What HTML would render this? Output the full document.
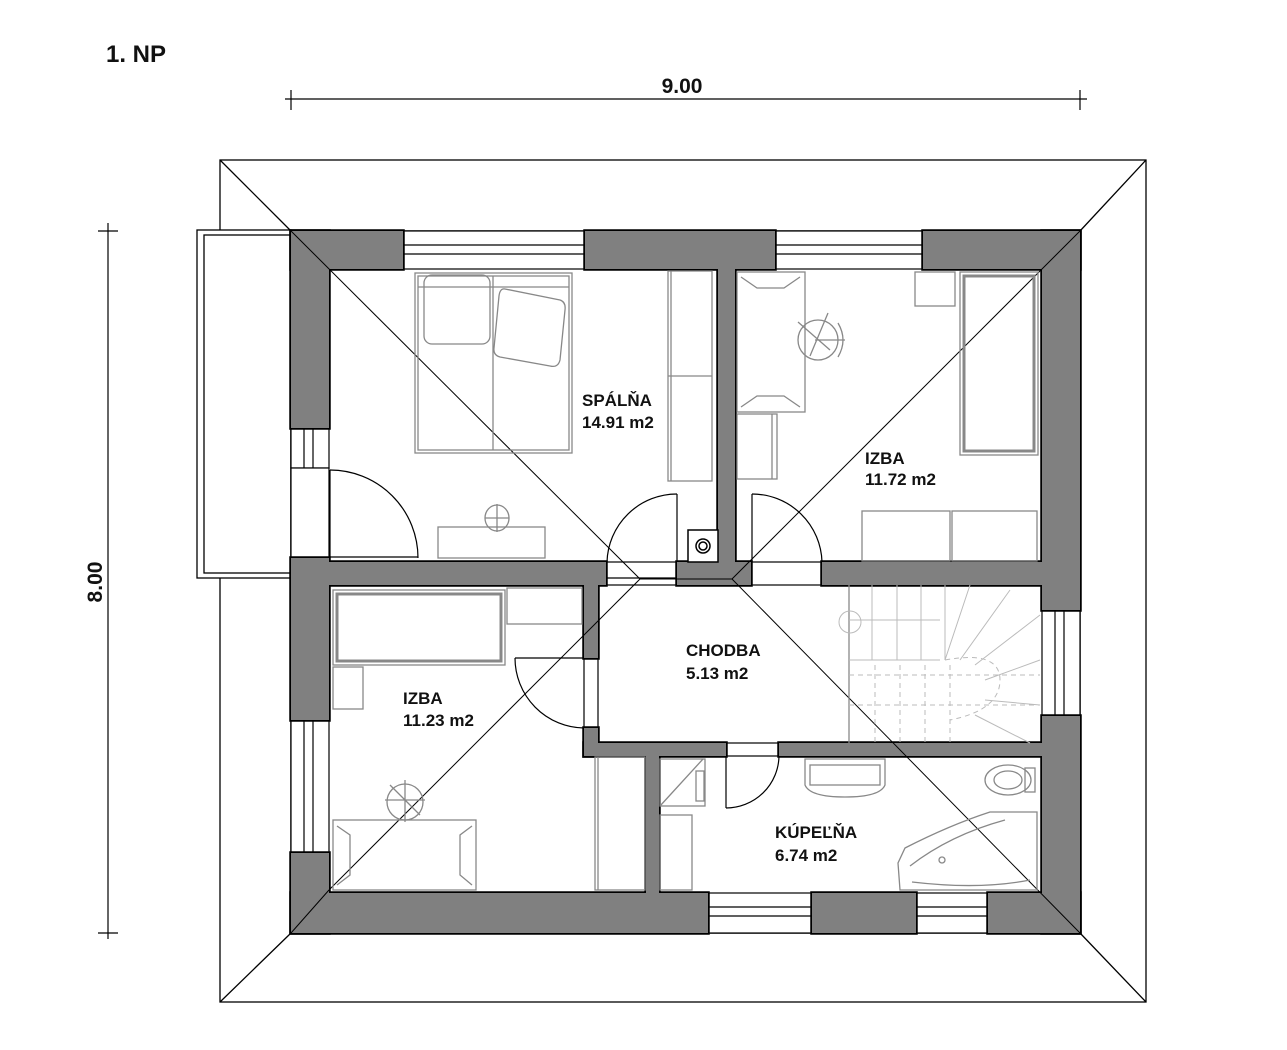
<!DOCTYPE html>
<html><head><meta charset="utf-8"><style>
html,body{margin:0;padding:0;background:#fff;width:1287px;height:1050px;overflow:hidden}
svg{display:block}
text{font-family:"Liberation Sans",Arial,sans-serif;font-weight:bold;fill:#111}
</style></head><body>
<svg width="1287" height="1050" viewBox="0 0 1287 1050">
<text x="106" y="62" font-size="24">1. NP</text>
<g stroke="#000" stroke-width="1.2">
<line x1="285" y1="99" x2="1087" y2="99"/>
<line x1="291" y1="90" x2="291" y2="110"/>
<line x1="1080" y1="90" x2="1080" y2="110"/>
<line x1="108" y1="223" x2="108" y2="939"/>
<line x1="98" y1="231" x2="118" y2="231"/>
<line x1="98" y1="933" x2="118" y2="933"/>
</g>
<text x="682" y="93" font-size="21" text-anchor="middle">9.00</text>
<text transform="translate(102,582) rotate(-90)" font-size="21" text-anchor="middle">8.00</text>
<g stroke="#000" stroke-width="1.3" fill="none">
<rect x="220" y="160" width="926" height="842"/>
<line x1="220" y1="160" x2="291" y2="231"/>
<line x1="1146" y1="160" x2="1080" y2="231"/>
<line x1="220" y1="1002" x2="291" y2="933"/>
<line x1="1146" y1="1002" x2="1080" y2="933"/>
</g>
<g fill="#fff" stroke="#000" stroke-width="1.3">
<rect x="197" y="230" width="94" height="348"/>
<rect x="204" y="235" width="87" height="338"/>
</g>
<rect x="291" y="231" width="789" height="702" fill="#fff" stroke="#000" stroke-width="1.5"/>
<g fill="#fff" stroke="#000" stroke-width="1.2">
<rect x="403" y="231" width="182" height="38"/><line x1="403" y1="245" x2="585" y2="245"/><line x1="403" y1="254" x2="585" y2="254"/>
<rect x="775" y="231" width="148" height="38"/><line x1="775" y1="245" x2="923" y2="245"/><line x1="775" y1="254" x2="923" y2="254"/>
<rect x="291" y="428" width="38" height="40"/><line x1="304" y1="428" x2="304" y2="468"/><line x1="313" y1="428" x2="313" y2="468"/>
<rect x="291" y="720" width="38" height="133"/><line x1="304" y1="720" x2="304" y2="853"/><line x1="313" y1="720" x2="313" y2="853"/>
<rect x="1042" y="610" width="38" height="106"/><line x1="1055" y1="610" x2="1055" y2="716"/><line x1="1064" y1="610" x2="1064" y2="716"/>
<rect x="708" y="893" width="104" height="40"/><line x1="708" y1="907" x2="812" y2="907"/><line x1="708" y1="916" x2="812" y2="916"/>
<rect x="916" y="893" width="72" height="40"/><line x1="916" y1="907" x2="988" y2="907"/><line x1="916" y1="916" x2="988" y2="916"/>
<rect x="606" y="562" width="71" height="23"/><line x1="606" y1="578" x2="677" y2="578"/>
<rect x="751" y="562" width="71" height="23"/>
<rect x="584" y="658" width="14" height="70"/>
<rect x="726" y="743" width="53" height="13"/>
<rect x="291" y="468" width="38" height="90"/>
</g>
<g fill="#808080" stroke="#000" stroke-width="3.5">
<rect x="291" y="231" width="112" height="38"/>
<rect x="585" y="231" width="190" height="38"/>
<rect x="923" y="231" width="157" height="38"/>
<rect x="291" y="231" width="38" height="197"/>
<rect x="291" y="558" width="38" height="162"/>
<rect x="291" y="853" width="38" height="80"/>
<rect x="1042" y="231" width="38" height="379"/>
<rect x="1042" y="716" width="38" height="217"/>
<rect x="291" y="893" width="417" height="40"/>
<rect x="812" y="893" width="104" height="40"/>
<rect x="988" y="893" width="92" height="40"/>
<rect x="718" y="269" width="17" height="293"/>
<rect x="329" y="562" width="277" height="23"/>
<rect x="677" y="562" width="74" height="23"/>
<rect x="822" y="562" width="220" height="23"/>
<rect x="584" y="585" width="14" height="73"/>
<rect x="584" y="728" width="14" height="28"/>
<rect x="584" y="743" width="142" height="13"/>
<rect x="779" y="743" width="263" height="13"/>
<rect x="646" y="756" width="13" height="137"/>
</g>
<g fill="#808080" stroke="none">
<rect x="291" y="231" width="112" height="38"/>
<rect x="585" y="231" width="190" height="38"/>
<rect x="923" y="231" width="157" height="38"/>
<rect x="291" y="231" width="38" height="197"/>
<rect x="291" y="558" width="38" height="162"/>
<rect x="291" y="853" width="38" height="80"/>
<rect x="1042" y="231" width="38" height="379"/>
<rect x="1042" y="716" width="38" height="217"/>
<rect x="291" y="893" width="417" height="40"/>
<rect x="812" y="893" width="104" height="40"/>
<rect x="988" y="893" width="92" height="40"/>
<rect x="718" y="269" width="17" height="293"/>
<rect x="329" y="562" width="277" height="23"/>
<rect x="677" y="562" width="74" height="23"/>
<rect x="822" y="562" width="220" height="23"/>
<rect x="584" y="585" width="14" height="73"/>
<rect x="584" y="728" width="14" height="28"/>
<rect x="584" y="743" width="142" height="13"/>
<rect x="779" y="743" width="263" height="13"/>
<rect x="646" y="756" width="13" height="137"/>
</g>
<g stroke="#000" stroke-width="1" fill="none">
<line x1="291" y1="231" x2="640" y2="579"/>
<line x1="640" y1="579" x2="329" y2="890"/>
<line x1="640" y1="579" x2="732" y2="579"/>
<line x1="732" y1="579" x2="1080" y2="231"/>
<line x1="732" y1="579" x2="1080" y2="933"/>
<line x1="329" y1="890" x2="291" y2="933"/>
</g>
<rect x="688" y="530" width="30" height="32" fill="#fff" stroke="#000" stroke-width="1.5"/>
<circle cx="703" cy="546" r="7" fill="none" stroke="#000" stroke-width="1.5"/>
<circle cx="703" cy="546" r="4" fill="none" stroke="#000" stroke-width="1.5"/>
<g stroke="#000" stroke-width="1.2" fill="none">
<line x1="330" y1="470" x2="330" y2="558"/><path d="M330 470 A88 88 0 0 1 418 558"/><line x1="330" y1="557" x2="418" y2="557"/>
<line x1="677" y1="494" x2="677" y2="562"/><path d="M677 494 A70 70 0 0 0 607 562"/>
<line x1="752" y1="494" x2="752" y2="562"/><path d="M752 494 A70 70 0 0 1 822 562"/>
<line x1="515" y1="658" x2="584" y2="658"/><path d="M515 658 A70 70 0 0 0 584 728"/>
<line x1="726" y1="756" x2="726" y2="808"/><path d="M726 808 A53 53 0 0 0 779 756"/>
</g>
<g stroke="#888" stroke-width="1.3" fill="none">
<rect x="415" y="273" width="157" height="180"/><rect x="418" y="276" width="151" height="174"/>
<line x1="493" y1="276" x2="493" y2="450"/><line x1="418" y1="287" x2="569" y2="287"/>
<rect x="424" y="275" width="66" height="69" rx="8"/>
<path d="M505 289 L560 300 Q566 302 565 310 L560 360 Q558 368 550 366 L500 357 Q493 355 494 348 L499 296 Q500 288 505 289Z"/>
<rect x="668" y="271" width="44" height="210"/><line x1="668" y1="376" x2="712" y2="376"/><line x1="671" y1="271" x2="671" y2="481"/>
<rect x="438" y="527" width="107" height="31"/>
<ellipse cx="497" cy="518" rx="12" ry="13"/><line x1="485" y1="518" x2="509" y2="518"/><line x1="497" y1="504" x2="497" y2="532"/>
<rect x="737" y="272" width="68" height="140"/>
<path d="M741 277 L757 288 L784 288 L800 277 M741 407 L757 396 L784 396 L800 407"/>
<circle cx="818" cy="340" r="20"/><path d="M798 322 L830 350 M828 313 L810 356 M815 340 L845 340 M838 323 Q848 340 838 357"/>
<rect x="737" y="414" width="40" height="65"/><line x1="772" y1="414" x2="772" y2="479"/>
<rect x="915" y="272" width="40" height="34"/>
<rect x="960" y="272" width="78" height="183"/><rect x="964" y="276" width="70" height="175" stroke-width="3"/>
<rect x="862" y="511" width="88" height="50"/><rect x="952" y="511" width="85" height="50"/>
<rect x="333" y="590" width="172" height="75"/><rect x="337" y="594" width="164" height="67" stroke-width="3"/>
<rect x="507" y="588" width="75" height="36"/>
<rect x="333" y="667" width="30" height="42"/>
<rect x="333" y="820" width="143" height="70"/>
<path d="M337 826 L350 835 L350 875 L337 885 M472 826 L460 835 L460 875 L472 885"/>
<circle cx="405" cy="802" r="18"/><path d="M385 800 L425 800 M405 780 L405 822 M390 785 L420 815"/>
<rect x="595" y="757" width="50" height="133"/><line x1="598" y1="757" x2="598" y2="890"/>
<rect x="660" y="759" width="45" height="47"/><line x1="660" y1="806" x2="703" y2="759"/><rect x="696" y="771" width="8" height="30"/>
<rect x="660" y="815" width="32" height="75"/>
<path d="M805 759 L885 759 L885 785 Q880 797 845 797 Q810 797 805 785Z"/><rect x="810" y="765" width="70" height="20"/>
<ellipse cx="1008" cy="780" rx="23" ry="15"/><ellipse cx="1008" cy="780" rx="14" ry="9"/><rect x="1025" y="768" width="10" height="24"/>
<path d="M898 863 L900 890 L1037 890 L1037 812 L990 812 Q950 825 905 848 Z"/>
<path d="M910 866 Q950 835 1005 820 M912 882 Q980 890 1030 880"/>
<circle cx="942" cy="860" r="3"/>
<line x1="849" y1="585" x2="849" y2="743"/>
</g>
<g stroke="#bbb" stroke-width="1" fill="none">
<line x1="872" y1="585" x2="872" y2="660"/><line x1="897" y1="585" x2="897" y2="660"/><line x1="921" y1="585" x2="921" y2="660"/><line x1="945" y1="585" x2="945" y2="660"/>
<line x1="849" y1="620" x2="940" y2="620"/><line x1="849" y1="660" x2="940" y2="660"/>
<path d="M945 660 L970 585 M960 660 L1010 590 M975 665 L1040 615 M985 680 L1040 660 M985 700 L1040 705 M975 715 L1030 743"/>
<path d="M849 675 L1040 675 M849 705 L1040 705" stroke-dasharray="5 4"/>
<path d="M875 665 L875 743 M900 665 L900 743 M925 665 L925 743 M950 665 L950 743" stroke-dasharray="5 4"/>
<path d="M945 660 Q1000 650 1000 680 Q1000 710 950 720" stroke-dasharray="5 4"/>
<circle cx="850" cy="622" r="11"/>
</g>
<g font-size="17">
<text x="582" y="406">SPÁLŇA</text><text x="582" y="428">14.91 m2</text>
<text x="865" y="464">IZBA</text><text x="865" y="485">11.72 m2</text>
<text x="686" y="656">CHODBA</text><text x="686" y="679">5.13 m2</text>
<text x="403" y="704">IZBA</text><text x="403" y="726">11.23 m2</text>
<text x="775" y="838">KÚPEĽŇA</text><text x="775" y="861">6.74 m2</text>
</g>
</svg>
</body></html>
